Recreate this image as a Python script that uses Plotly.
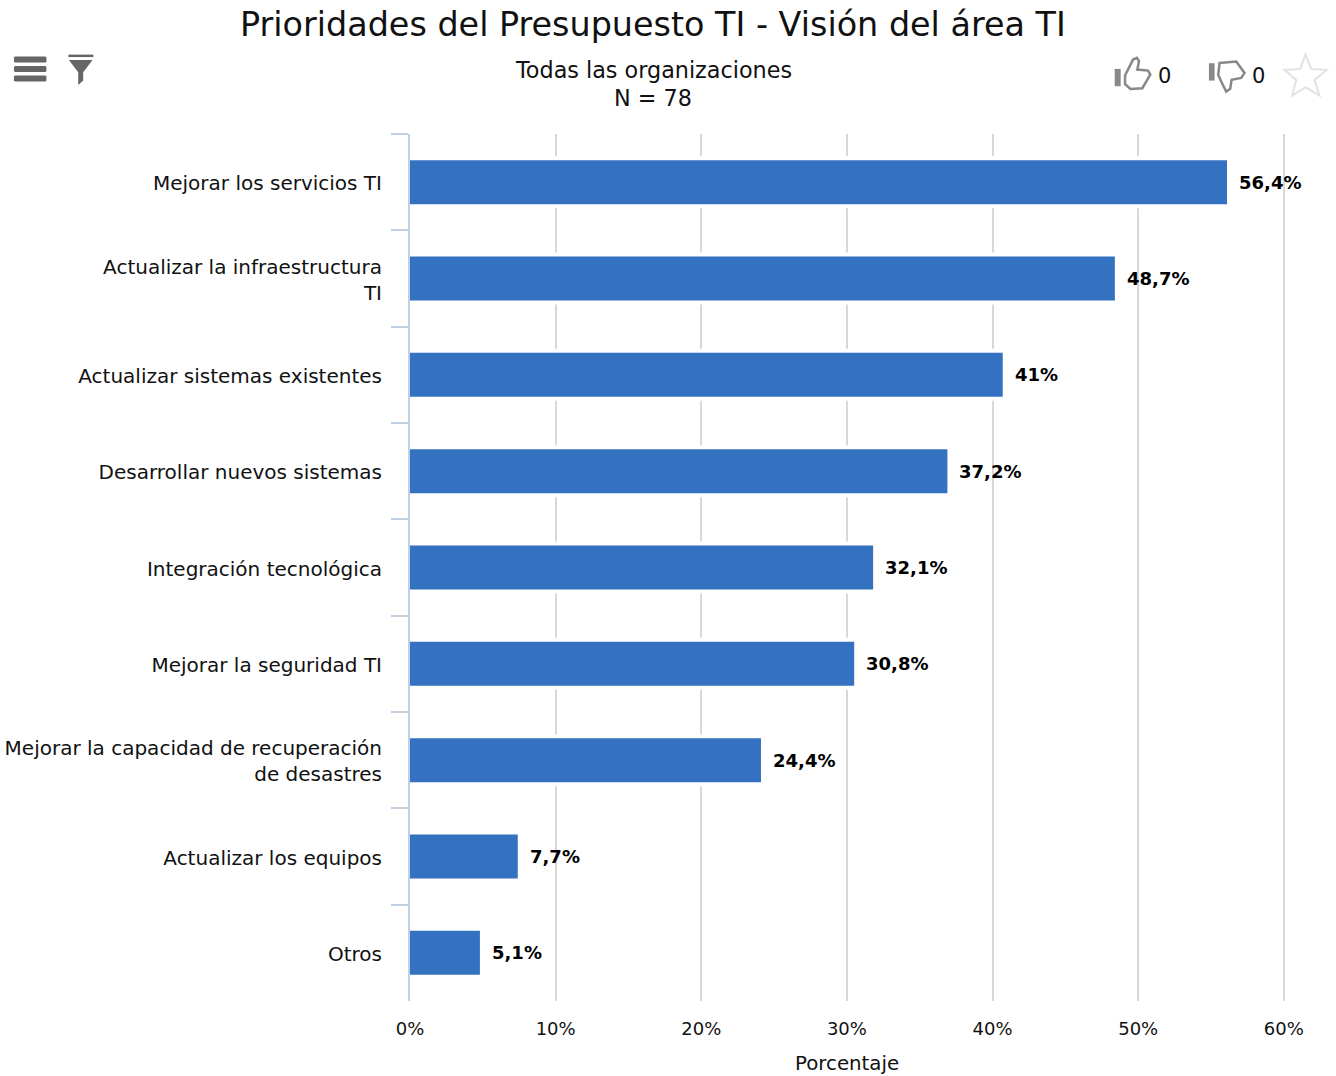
import plotly.graph_objects as go

categories = ["Mejorar los servicios TI", "Actualizar la infraestructura<br>TI",
              "Actualizar sistemas existentes", "Desarrollar nuevos sistemas",
              "Integración tecnológica", "Mejorar la seguridad TI",
              "Mejorar la capacidad de recuperación<br>de desastres",
              "Actualizar los equipos", "Otros"]
values = [56.4, 48.7, 41, 37.2, 32.1, 30.8, 24.4, 7.7, 5.1]
value_labels = ["56,4%", "48,7%", "41%", "37,2%", "32,1%", "30,8%", "24,4%", "7,7%", "5,1%"]
x_ticks = [0, 10, 20, 30, 40, 50, 60]
x_tick_labels = ["0%", "10%", "20%", "30%", "40%", "50%", "60%"]

W, H = 1336, 1076
L, R, T, B = 409.5, 1286.5, 133.5, 1001.5
X_MAX = 60.15
BAR_OFFSET = 0.3
FONT = "DejaVu Sans"
INK = "#111111"


def px(x):
    return (x - L) / (R - L)


def py(y):
    return (B - y) / (B - T)


def path(points, close=True):
    s = "M " + " L ".join(f"{px(x):.5f},{py(y):.5f}" for x, y in points)
    return s + (" Z" if close else "")


def z(origin, points):
    return [(origin[0] + a / 3, origin[1] + b / 3) for a, b in points]


shapes = []


def add(points, fill="rgba(0,0,0,0)", line="rgba(0,0,0,0)", width=0):
    shapes.append(dict(type="path", xref="paper", yref="paper", path=path(points),
                       fillcolor=fill, line=dict(color=line, width=width), layer="above"))


for top in (56, 65.5, 75):
    add([(13, top + 1), (14, top), (44.5, top), (45.5, top + 1), (45.5, top + 5), (44.5, top + 6), (14, top + 6), (13, top + 5)], fill="#666666")
add([(67.5, 54), (92.5, 54), (92.5, 56.5), (67.5, 56.5)], fill="#666666")
add(z((-1, 40), [(207, 58), (278, 58), (250, 95), (250, 120), (235, 133), (235, 95)]), fill="#666666")

o = (1100, 40)
add(z(o, [(45, 85), (63, 85), (63, 137), (45, 137)]), fill="#888888")
add(z(o, [(76, 105), (100, 57), (112, 52), (118, 62), (113, 87), (145, 90), (152, 102),
          (128, 143), (92, 145), (76, 130)]), line="#888888", width=2.5)
add(z(o, [(328, 68), (345, 68), (345, 120), (328, 120)]), fill="#888888")
add(z(o, [(360, 67), (410, 63), (435, 97), (425, 112), (396, 118), (392, 145), (380, 153),
          (366, 125), (356, 103)]), line="#888888", width=2.5)
add(z(o, [(618, 42), (635, 85), (682, 88), (645, 118), (660, 165), (618, 140), (578, 165),
          (590, 118), (555, 88), (602, 85)]), line="#e2e2e2", width=2)

fig = go.Figure()
fig.add_trace(go.Scatter(x=x_ticks[:1], y=categories[:1], mode="none", hoverinfo="skip", showlegend=False))
fig.add_trace(go.Bar(y=categories, x=values, orientation="h", width=0.54, xaxis="x2",
                     marker=dict(color="white", line=dict(width=0)), hoverinfo="skip", showlegend=False))
fig.add_trace(go.Bar(y=categories, x=values, orientation="h", width=0.456, xaxis="x2",
                     marker=dict(color="#3472c1", line=dict(width=0)), showlegend=False))

annotations = [
    dict(x=v, y=c, xref="x2", yref="y", text=f"<b>{t}</b>", showarrow=False, xanchor="left",
         xshift=10, yshift=0, font=dict(family=FONT, size=18, color="#000000"))
    for v, c, t in zip(values, categories, value_labels)
]


def label(x, y, text, size):
    annotations.append(dict(x=px(x), y=py(y), xref="paper", yref="paper", text=text, showarrow=False,
                            xanchor="center", yanchor="middle", font=dict(family=FONT, size=size, color=INK)))


label(653, 24, "Prioridades del Presupuesto TI - Visión del área TI", 33.4)
label(653, 69, "Todas las organizaciones", 22.3)
label(653, 97, "N = 78", 22.3)
label(1165, 75, "0", 21)
label(1259, 75, "0", 21)
label(847, 1064, "Porcentaje", 19.8)

fig.update_layout(
    width=W, height=H, barmode="overlay", plot_bgcolor="white", paper_bgcolor="white",
    margin=dict(l=L, r=W - R, t=T, b=H - B, pad=0, autoexpand=False), shapes=shapes, annotations=annotations,
    font=dict(family=FONT, size=19, color=INK),
    xaxis=dict(range=[0, X_MAX], tickvals=x_ticks, ticktext=x_tick_labels, showgrid=True, automargin=False,
               gridcolor="#d8d8d8", gridwidth=2, zeroline=False, showline=False, ticks="",
               ticklabelstandoff=15, tickfont=dict(family=FONT, size=18, color=INK)),
    xaxis2=dict(range=[BAR_OFFSET, X_MAX + BAR_OFFSET], overlaying="x", anchor="y", visible=False,
                showgrid=False, zeroline=False),
    yaxis=dict(categoryorder="array", categoryarray=categories, autorange="reversed", showgrid=False,
               automargin=False, zeroline=False, showline=True, linecolor="#c0d0e0", linewidth=2, ticks="outside",
               tickson="boundaries", ticklen=17, tickcolor="#c0d0e0", tickwidth=2,
               ticklabelstandoff=22, ticklabelshift=-1, tickfont=dict(family=FONT, size=20, color=INK)),
)
fig.write_html("out.html", config={"displayModeBar": False},
               post_script="document.body.style.margin='0';document.documentElement.style.overflow='hidden';")
